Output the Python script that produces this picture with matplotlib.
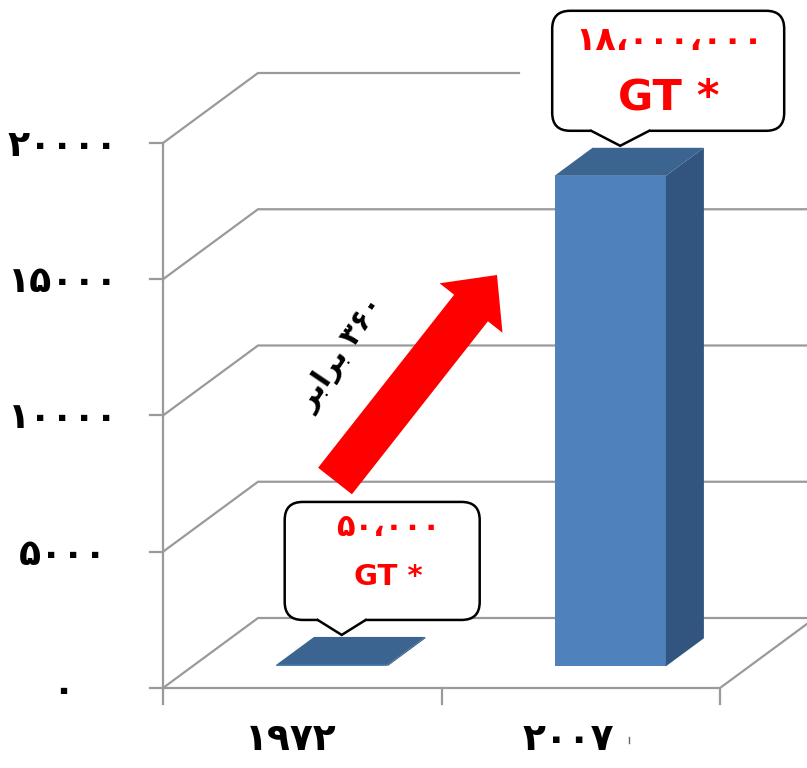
import matplotlib
matplotlib.use("Agg")
import matplotlib.pyplot as plt
from matplotlib.patches import Polygon, FancyBboxPatch, FancyArrow
from matplotlib.lines import Line2D

plt.rcParams['font.family'] = ['DejaVu Sans']

# data (thousands of GT)
categories = ['۱۹۷۲', '۲۰۰۷']
values = [50, 18000]
value_labels = ['۵۰،۰۰۰', '۱۸،۰۰۰،۰۰۰']
unit_label = 'GT *'
yticks = [0, 5000, 10000, 15000, 20000]
ytick_labels = ['۰', '۵۰۰۰', '۱۰۰۰۰', '۱۵۰۰۰', '۲۰۰۰۰']
growth_label = 'ﺮﺑﺍﺮﺑ ۳۶۰'   # "۳۶۰ برابر" shaped, visual order

W, H = 807, 768
fig = plt.figure(figsize=(W / 100, H / 100), dpi=100)

# main axes: x in category units, y in value units (front plane of the 3d box)
X0_PX, CAT_PX = 163, 278.5
Y0_PX, Y_PX = 688, 545 / 20000
ax = fig.add_axes([0, 0, 1, 1])
ax.set_xlim(-X0_PX / CAT_PX, (W - X0_PX) / CAT_PX)
ax.set_ylim(-(H - Y0_PX) / Y_PX, Y0_PX / Y_PX)
ax.axis('off')

DX, DY = 95 / CAT_PX, 70 / Y_PX      # floor depth
px_x, px_y = 1 / CAT_PX, 1 / Y_PX    # one pixel in data units
xmax = ax.get_xlim()[1]
grid_c = '#9a9a9a'
glw = 1.6

# back walls / gridlines
for v in yticks:
    xend = xmax if v < max(yticks) else (519 - X0_PX) / CAT_PX
    ax.plot([0, DX, xend], [v, v + DY, v + DY], color=grid_c, lw=glw, zorder=1,
            solid_joinstyle='miter')
    ax.plot([-13 * px_x, 0], [v, v], color=grid_c, lw=glw, zorder=1)
# floor front edge and axis
n = len(categories)
ax.plot([0, n, n + DX], [0, 0, DY], color=grid_c, lw=glw, zorder=1)
ax.plot([0, 0], [0, max(yticks)], color=grid_c, lw=glw, zorder=1)
for i in range(n + 1):
    ax.plot([i, i], [0, -16 * px_y], color=grid_c, lw=glw, zorder=1)

for v, lab in zip(yticks, ytick_labels):
    ax.text(-100 * px_x, v - 3 * px_y, lab, ha='center', va='center', fontsize=26,
            fontweight='bold', color='black')
for i, lab in enumerate(categories):
    ax.text(i + 0.5 - 12 * px_x, -52 * px_y, lab, ha='center', va='center',
            fontsize=27, fontweight='bold', color='black')

# 3d bars
front_c, top_c, side_c = '#4f81bd', '#3c6491', '#31557f'
bw = 0.4
f0, f1 = 0.31, 0.71
ddx, ddy = (f1 - f0) * DX, (f1 - f0) * DY
tips = []
for i, v in enumerate(values):
    xl = i + 0.5 - bw / 2 + f0 * DX
    xr = xl + bw
    yb = f0 * DY
    yt = v + yb
    ax.add_patch(Polygon([(xl, yb), (xr, yb), (xr, yt), (xl, yt)],
                         closed=True, fc=front_c, ec='none', zorder=3))
    ax.add_patch(Polygon([(xr, yb), (xr + ddx, yb + ddy), (xr + ddx, yt + ddy), (xr, yt)],
                         closed=True, fc=side_c, ec='none', zorder=3))
    ax.add_patch(Polygon([(xl, yt), (xr, yt), (xr + ddx, yt + ddy), (xl + ddx, yt + ddy)],
                         closed=True, fc=top_c, ec='none', zorder=3))
    tips.append(ax.transData.transform((i + 0.5 + f0 * DX, v + f1 * DY)))

# overlay in pixel coords (y down) for callouts and arrow
pax = fig.add_axes([0, 0, 1, 1])
pax.set_xlim(0, W)
pax.set_ylim(H, 0)
pax.axis('off')
pax.patch.set_alpha(0)

# callout layout: (box left, width, height, pointer half base, number size, unit size,
#                  number dy, unit dy, text dx) relative to tip
callouts = [
    (-57, 195, 118, 24, 22, 21, 26, 75, 6),
    (-68, 232, 120, 29, 24, 31, 30, 87, 1),
]
for (tx, ty), lab, c in zip(tips, value_labels, callouts):
    tx, ty = tx + 10, H - ty - 2
    left, w, h, hb, nfs, ufs, ndy, udy, tdx = c
    bottom = ty - 15
    top = bottom - h
    pax.add_patch(FancyBboxPatch((tx + left, top), w, h,
                                 boxstyle='round,pad=0,rounding_size=18',
                                 fc='white', ec='black', lw=1.8, zorder=5))
    pax.add_patch(Polygon([(tx - hb, bottom - 3), (tx - hb, bottom), (tx, ty),
                           (tx + hb, bottom), (tx + hb, bottom - 3)],
                          closed=True, fc='white', ec='none', zorder=6))
    pax.add_line(Line2D([tx - hb, tx, tx + hb], [bottom, ty, bottom], color='black',
                        lw=1.8, zorder=7, solid_joinstyle='miter'))
    cx = tx + left + w / 2 + tdx
    pax.text(cx, top + ndy, lab, ha='center', va='center', fontsize=nfs,
             fontweight='bold', color='#ff0000', zorder=8)
    pax.text(cx, top + udy, unit_label, ha='center', va='center', fontsize=ufs,
             fontweight='bold', color='#ff0000', zorder=8)

# growth arrow
pax.add_patch(FancyArrow(335, 481, 162, -206, width=43, head_width=80, head_length=42,
                         length_includes_head=True, fc='#ff0000', ec='none', zorder=4))
pax.text(342, 354, growth_label, rotation=56, ha='center', va='center', fontsize=21,
         fontweight='bold', color='black', rotation_mode='anchor', zorder=4)

# small stray mark next to the 2007 label
pax.add_line(Line2D([629, 629], [737, 743], color='#666666', lw=1))

fig.savefig('out.png', dpi=100)
